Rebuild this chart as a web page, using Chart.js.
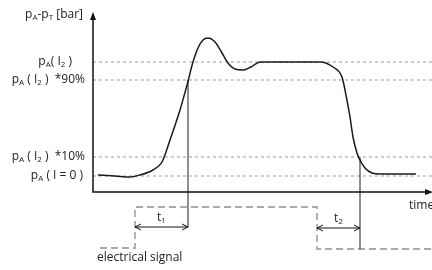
<!DOCTYPE html>
<html lang="en">
<head>
<meta charset="UTF-8" />
<title>pA-pT response</title>
<script src="https://cdn.jsdelivr.net/npm/chart.js"></script>
<style>
  body { margin: 0; background: #fff; }
  #wrap { width: 432px; height: 270px; position: relative; }
</style>
</head>
<body>
<div id="wrap"><canvas id="chart"></canvas></div>
<script>
// schematic units: time along x, pressure difference (bar) along y
const curveTime = [0.5, 2.2, 3.7, 4.7, 6.0, 6.9, 7.7, 8.7, 9.4, 10.0, 10.5, 11.0, 11.5, 12.2, 12.9, 13.5, 14.2, 15.0, 15.8, 16.7, 18.7, 20.7, 22.7, 24.0, 24.9, 25.2, 25.7, 26.0, 26.4, 26.7, 27.2, 27.9, 28.7, 30.7, 32.3];
const curvePressure = [1.7, 1.6, 1.5, 1.7, 2.2, 3.0, 5.2, 8.2, 10.7, 13.0, 14.4, 15.2, 15.4, 15.0, 13.9, 12.9, 12.3, 12.2, 12.5, 13.0, 13.0, 13.0, 13.0, 12.5, 11.5, 10.2, 7.5, 5.5, 3.9, 3.2, 2.4, 1.9, 1.8, 1.8, 1.8];

// reference levels: I=0, 10%, 90%, I2
const levelValues = [1.6, 3.5, 11.2, 13.0];
const levelLabels = ["p_A ( I = 0 )", "p_A ( I_2 )  *10%", "p_A ( I_2 )  *90%", "p_A( I_2 )"];

// electrical signal (drawn below the time axis)
const signalTime = [0.7, 4.2, 4.2, 22.4, 22.4, 33.9];
const signalValue = [-5.6, -5.6, -1.5, -1.5, -5.7, -5.7];

// delay spans
const t1Span = [4.2, 9.5];
const t2Span = [22.4, 26.7];
const spanLevel = [-3.5, -3.6];

const axisTimeEnd = 33.8;
const axisPressureEnd = 17.8;
const levelLineEnd = 33.9;

function pts(xs, ys) {
  return xs.map((x, i) => ({ x: x, y: ys[i] }));
}

const datasets = [
  { data: pts(curveTime, curvePressure), borderColor: "#1a1a1a", borderWidth: 1.5, cubicInterpolationMode: "monotone" },
  { data: [{ x: 0, y: axisPressureEnd }, { x: 0, y: 0 }, { x: axisTimeEnd, y: 0 }], borderColor: "#111", borderWidth: 1.5 },
  { data: [{ x: t1Span[1], y: levelValues[2] }, { x: t1Span[1], y: spanLevel[0] }], borderColor: "#444", borderWidth: 1.2 },
  { data: [{ x: t2Span[1], y: levelValues[1] }, { x: t2Span[1], y: signalValue[5] }], borderColor: "#444", borderWidth: 1.2 },
  { data: [{ x: t1Span[0], y: spanLevel[0] }, { x: t1Span[1], y: spanLevel[0] }], borderColor: "#111", borderWidth: 1 },
  { data: [{ x: t2Span[0], y: spanLevel[1] }, { x: t2Span[1], y: spanLevel[1] }], borderColor: "#111", borderWidth: 1 },
  { data: pts(signalTime, signalValue), borderColor: "#aaa", borderWidth: 1.8, borderDash: [7, 4] },
];
levelValues.forEach(function (v) {
  datasets.push({ data: [{ x: 0, y: v }, { x: levelLineEnd, y: v }], borderColor: "#999", borderWidth: 1, borderDash: [3, 3] });
});
datasets.forEach(function (d) {
  d.showLine = true;
  d.pointRadius = 0;
  d.fill = false;
});

const FONT = '"Open Sans", "DejaVu Sans", sans-serif';

// draws text where "_x" makes x a subscript
function drawRich(ctx, str, x, y, align) {
  const segs = [];
  for (let i = 0; i < str.length; i++) {
    if (str[i] === "_") { segs.push({ t: str[i + 1], sub: true }); i++; }
    else segs.push({ t: str[i], sub: false });
  }
  let w = 0;
  segs.forEach(function (s) {
    ctx.font = s.sub ? "8px " + FONT : "12px " + FONT;
    s.w = ctx.measureText(s.t).width;
    w += s.w;
  });
  let cx = align === "right" ? x - w : align === "center" ? x - w / 2 : x;
  ctx.textBaseline = "middle";
  ctx.textAlign = "left";
  segs.forEach(function (s) {
    ctx.font = s.sub ? "8px " + FONT : "12px " + FONT;
    ctx.fillText(s.t, cx, s.sub ? y + 3 : y);
    cx += s.w;
  });
}

function openHead(ctx, x, y, dir) {
  ctx.beginPath();
  ctx.moveTo(x + dir * 6, y - 3);
  ctx.lineTo(x, y);
  ctx.lineTo(x + dir * 6, y + 3);
  ctx.stroke();
}

const annotations = {
  id: "annotations",
  afterDatasetsDraw: function (chart) {
    const ctx = chart.ctx;
    const xs = chart.scales.x, ys = chart.scales.y;
    const X = (v) => xs.getPixelForValue(v), Y = (v) => ys.getPixelForValue(v);
    ctx.save();
    ctx.fillStyle = "#111";
    // axis arrow heads
    ctx.beginPath();
    ctx.moveTo(X(0), Y(axisPressureEnd) - 2);
    ctx.lineTo(X(0) - 3, Y(axisPressureEnd) + 6);
    ctx.lineTo(X(0) + 3, Y(axisPressureEnd) + 6);
    ctx.closePath();
    ctx.fill();
    ctx.beginPath();
    ctx.moveTo(X(axisTimeEnd) + 2, Y(0));
    ctx.lineTo(X(axisTimeEnd) - 6, Y(0) - 3);
    ctx.lineTo(X(axisTimeEnd) - 6, Y(0) + 3);
    ctx.closePath();
    ctx.fill();
    // span arrow heads
    ctx.strokeStyle = "#111";
    ctx.lineWidth = 1;
    openHead(ctx, X(t1Span[0]), Y(spanLevel[0]), 1);
    openHead(ctx, X(t1Span[1]), Y(spanLevel[0]), -1);
    openHead(ctx, X(t2Span[0]), Y(spanLevel[1]), 1);
    openHead(ctx, X(t2Span[1]), Y(spanLevel[1]), -1);
    // texts
    ctx.fillStyle = "#222";
    const labelRight = [83, 85, 85, 72];
    levelValues.forEach(function (v, i) {
      drawRich(ctx, levelLabels[i], labelRight[i], Y(v), "right");
    });
    drawRich(ctx, "p_A-p_T [bar]", 83, 15, "right");
    drawRich(ctx, "time", 409, 206, "left");
    drawRich(ctx, "t_1", (X(t1Span[0]) + X(t1Span[1])) / 2, Y(spanLevel[0]) - 9, "center");
    drawRich(ctx, "t_2", (X(t2Span[0]) + X(t2Span[1])) / 2, Y(spanLevel[1]) - 9, "center");
    drawRich(ctx, "electrical signal", 97, 258, "left");
    ctx.restore();
  },
};

new Chart(document.getElementById("chart"), {
  type: "scatter",
  data: { datasets: datasets },
  options: {
    responsive: true,
    maintainAspectRatio: false,
    animation: false,
    events: [],
    layout: { padding: 0 },
    plugins: { legend: { display: false }, tooltip: { enabled: false } },
    scales: {
      x: { type: "linear", min: -9.3, max: 33.9, display: false },
      y: { type: "linear", min: -7.8, max: 19.2, display: false },
    },
  },
  plugins: [annotations],
});
</script>
</body>
</html>
